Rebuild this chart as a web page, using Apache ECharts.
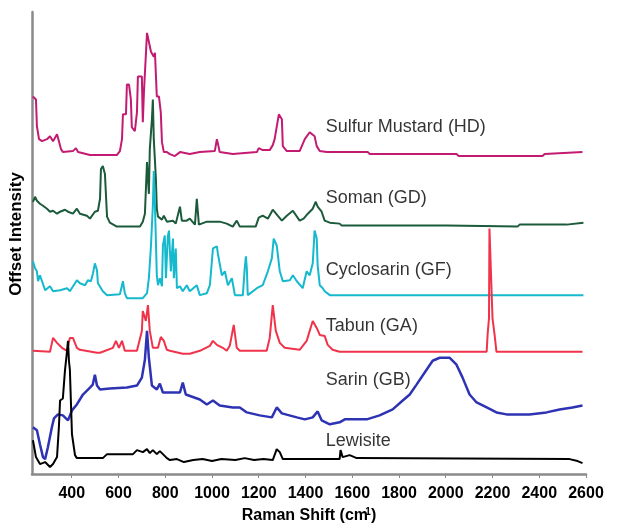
<!DOCTYPE html>
<html><head><meta charset="utf-8">
<script src="https://cdn.jsdelivr.net/npm/echarts@6/dist/echarts.min.js"></script>
<style>html,body{margin:0;padding:0;background:#fff}#c{width:618px;height:529px}</style>
</head><body><div id="c"></div>
<script>
// Raman shift (cm-1) tick labels
const xTicks = [400, 600, 800, 1000, 1200, 1400, 1600, 1800, 2000, 2200, 2400, 2600];

const seriesNames = ['Sulfur Mustard (HD)', 'Soman (GD)', 'Cyclosarin (GF)', 'Tabun (GA)', 'Sarin (GB)', 'Lewisite'];
const seriesColors = ['#C31B72', '#1B5A3A', '#14B9CD', '#F0334B', '#2E33B3', '#000000'];

// [Raman shift, offset intensity]
const sulfurMustard = [[234,380],[247,377],[251,350],[260,337],[273,335],[294,337],[307,340],[315,342],[320,335],[337,342],[345,340],[354,327],[362,324],[405,325],[418,328],[427,324],[478,321],[593,321],[606,325],[615,337],[619,362],[632,362],[636,392],[645,392],[653,377],[657,349],[670,345],[679,364],[683,400],[700,400],[704,354],[709,385],[717,387],[722,444],[730,445],[739,425],[747,424],[751,420],[756,424],[760,422],[764,380],[773,380],[781,364],[786,334],[794,324],[807,324],[820,322],[841,320],[863,324],[905,322],[948,324],[1012,325],[1021,337],[1025,333],[1033,324],[1089,322],[1192,324],[1200,328],[1217,326],[1247,326],[1260,331],[1268,337],[1286,362],[1299,357],[1303,330],[1320,325],[1375,325],[1397,337],[1418,344],[1426,344],[1439,340],[1448,330],[1461,325],[1491,324],[1666,324],[1675,322],[2046,322],[2055,320],[2414,320],[2423,322],[2585,324]];

const soman = [[234,274],[243,279],[251,275],[264,272],[277,270],[294,267],[307,264],[320,265],[337,262],[350,264],[371,266],[384,264],[405,262],[422,267],[435,262],[465,260],[478,257],[499,264],[512,265],[521,277],[525,307],[533,310],[542,302],[551,259],[563,253],[593,249],[692,249],[704,254],[713,262],[722,314],[730,282],[734,327],[743,357],[747,377],[751,337],[756,315],[760,297],[764,267],[769,259],[786,256],[794,260],[807,254],[833,255],[845,252],[863,269],[871,255],[892,255],[905,257],[927,251],[935,277],[944,251],[978,254],[1004,254],[1033,254],[1063,252],[1089,249],[1106,255],[1119,249],[1187,249],[1200,258],[1217,260],[1239,257],[1260,266],[1281,260],[1299,255],[1320,260],[1346,265],[1375,255],[1392,257],[1410,262],[1431,267],[1444,274],[1452,269],[1469,264],[1482,255],[1504,253],[1546,252],[1555,250],[2004,250],[2008,249],[2307,249],[2316,251],[2517,251],[2521,253],[2589,253]];

const cyclosarin = [[234,214],[243,207],[251,204],[256,194],[264,200],[273,194],[286,185],[307,189],[320,184],[350,185],[380,187],[392,184],[422,195],[435,192],[457,190],[469,195],[482,194],[491,202],[499,212],[508,205],[512,192],[533,184],[551,180],[606,181],[615,190],[619,194],[627,182],[636,177],[704,177],[722,182],[730,197],[739,230],[747,270],[751,305],[756,270],[764,200],[769,190],[777,197],[786,189],[790,230],[798,240],[803,197],[811,239],[816,245],[824,204],[833,237],[837,197],[845,227],[850,187],[863,189],[875,184],[892,190],[905,184],[935,190],[948,180],[978,182],[991,190],[1004,227],[1021,229],[1025,222],[1042,200],[1055,204],[1068,190],[1085,197],[1098,180],[1132,180],[1140,207],[1145,219],[1149,207],[1153,180],[1192,187],[1217,190],[1239,204],[1256,217],[1264,237],[1277,230],[1290,204],[1303,194],[1333,195],[1346,200],[1363,194],[1388,187],[1405,204],[1418,200],[1431,212],[1439,245],[1448,237],[1452,210],[1461,190],[1474,187],[1482,184],[1504,180],[2589,180]];

const tabun = [[234,124],[307,123],[320,137],[337,132],[358,127],[380,124],[392,137],[405,137],[422,127],[435,125],[508,122],[521,122],[576,127],[589,134],[602,127],[615,134],[627,124],[679,124],[700,144],[704,164],[717,154],[726,170],[734,144],[747,127],[769,127],[781,138],[794,134],[807,125],[820,124],[875,121],[905,121],[948,124],[991,129],[1004,134],[1021,130],[1046,127],[1063,124],[1076,129],[1085,140],[1093,150],[1106,127],[1119,124],[1234,124],[1247,137],[1260,170],[1273,144],[1290,132],[1311,127],[1375,125],[1405,134],[1431,154],[1439,152],[1448,147],[1461,140],[1482,139],[1495,130],[1516,125],[1546,123],[2175,123],[2179,140],[2185,157],[2187,247],[2194,247],[2200,157],[2209,140],[2217,123],[2585,123]];

const sarin = [[234,47],[251,44],[264,30],[277,17],[286,15],[298,27],[315,47],[324,56],[341,60],[362,59],[384,54],[401,64],[422,70],[448,80],[478,87],[490,90],[499,100],[508,89],[521,85],[563,86],[636,87],[679,89],[700,97],[713,115],[722,144],[730,117],[743,89],[764,85],[777,91],[790,82],[863,82],[875,92],[888,80],[948,75],[978,70],[1004,74],[1033,69],[1089,67],[1119,67],[1149,62],[1204,59],[1256,57],[1277,67],[1299,61],[1363,57],[1397,55],[1431,57],[1452,63],[1469,54],[1504,50],[1546,52],[1568,55],[1662,55],[1717,59],[1773,65],[1816,74],[1846,80],[1875,90],[1918,105],[1944,114],[1974,117],[2017,117],[2046,110],[2072,97],[2102,80],[2132,72],[2175,67],[2217,62],[2260,60],[2358,60],[2431,62],[2487,65],[2542,67],[2585,69]];

const lewisite = [[234,34],[247,17],[264,10],[286,12],[307,7],[320,10],[337,17],[345,47],[350,74],[362,76],[371,104],[380,124],[384,134],[388,114],[392,105],[401,40],[414,19],[422,16],[533,16],[551,20],[662,20],[679,24],[704,22],[722,25],[734,21],[747,24],[764,20],[777,23],[790,20],[807,16],[820,14],[850,15],[880,12],[920,14],[960,15],[1000,13],[1040,15],[1100,14],[1140,16],[1180,14],[1220,15],[1260,14],[1277,25],[1290,22],[1303,15],[1546,15],[1550,24],[1559,17],[1589,19],[1619,16],[2530,15],[2564,13],[2585,11]];

// name label anchors [Raman shift, offset intensity]
const labelAnchors = [[1487,349],[1487,278],[1487,205],[1487,149],[1487,95],[1487,33]];

const allData = [sulfurMustard, soman, cyclosarin, tabun, sarin, lewisite];

const chart = echarts.init(document.getElementById('c'), null, {renderer: 'canvas'});
const FONT = '"Liberation Sans", Arial, sans-serif';

const series = allData.map((d, i) => ({
  name: seriesNames[i],
  type: 'line',
  data: d,
  symbol: 'none',
  lineStyle: {color: seriesColors[i], width: i === 4 ? 2.5 : 2},
  itemStyle: {color: seriesColors[i]},
  animation: false,
  z: 2 + i
}));

series.push({
  type: 'scatter',
  symbolSize: 0,
  data: labelAnchors.map((p, i) => [p[0], p[1], seriesNames[i]]),
  label: {
    show: true,
    position: 'right',
    distance: 0,
    formatter: p => p.value[2],
    color: '#000',
    fontSize: 18,
    fontFamily: FONT
  },
  animation: false,
  silent: true,
  z: 20
});

chart.setOption({
  backgroundColor: '#fff',
  animation: false,
  grid: {left: 32, right: 32, top: 12, bottom: 52},
  xAxis: {
    type: 'value',
    min: 230,
    max: 2600,
    name: 'Raman Shift (cm{sup|-1})',
    nameLocation: 'middle',
    nameGap: 33,
    nameTextStyle: {
      color: '#000', fontSize: 16, fontWeight: 'bold', fontFamily: FONT,
      rich: {sup: {fontSize: 10, fontWeight: 'bold', verticalAlign: 'top', padding: [0,0,8,-6], fontFamily: FONT, color: '#000'}}
    },
    axisLine: {show: true, onZero: false, lineStyle: {color: '#8a8a8a', width: 2.5}},
    axisTick: {show: true, customValues: xTicks, length: 4, lineStyle: {color: '#8a8a8a', width: 1}},
    axisLabel: {customValues: xTicks, formatter: v => String(v), color: '#000', fontSize: 16, fontWeight: 'bold', fontFamily: FONT, margin: 12},
    splitLine: {show: false}
  },
  yAxis: {
    type: 'value',
    min: 0,
    max: 465,
    name: 'Offset Intensity',
    nameLocation: 'middle',
    nameGap: 7,
    nameTextStyle: {color: '#000', fontSize: 17, fontWeight: 'bold', fontFamily: FONT, padding: [0, 0, 0, 18]},
    axisLine: {show: true, lineStyle: {color: '#8a8a8a', width: 2.5}},
    axisTick: {show: false},
    axisLabel: {show: false},
    splitLine: {show: false}
  },
  series: series
});
</script>
</body></html>
